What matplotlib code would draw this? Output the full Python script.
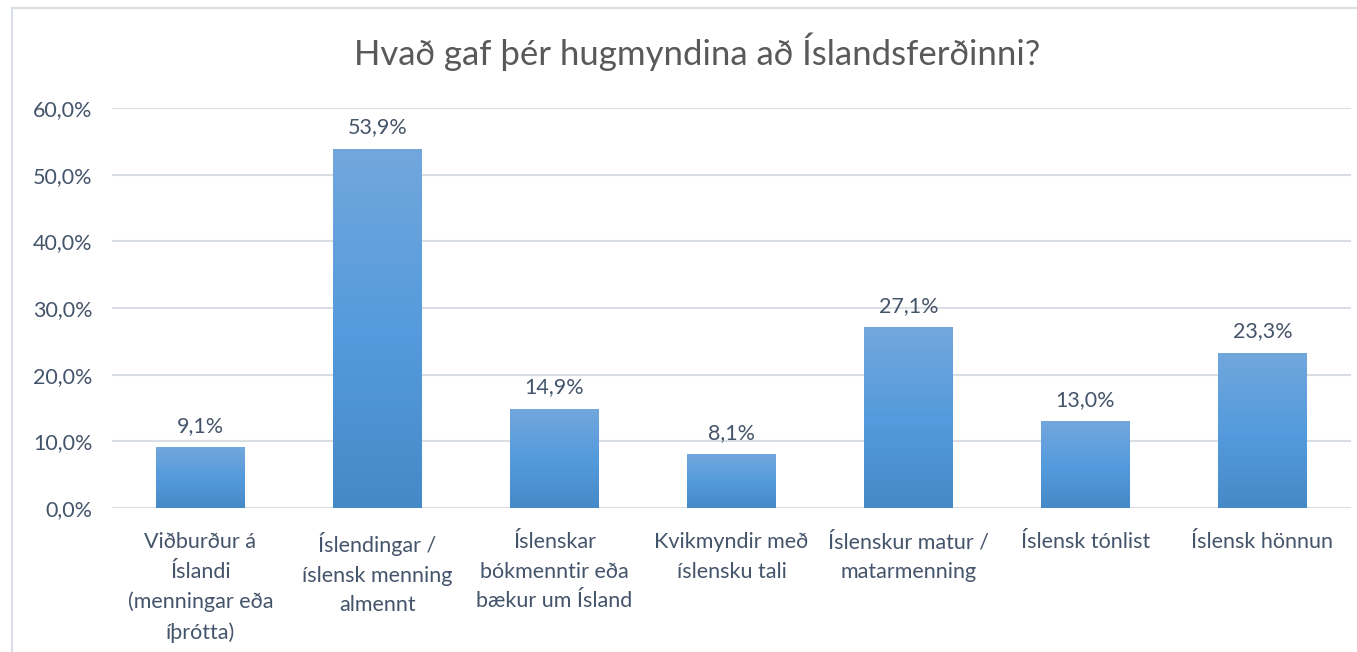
import matplotlib.pyplot as plt
import numpy as np
from matplotlib.colors import LinearSegmentedColormap
from matplotlib.patches import Rectangle

categories = [
    "Viðburður á\nÍslandi\n(menningar eða\níþrótta)",
    "Íslendingar /\níslensk menning\nalmennt",
    "Íslenskar\nbókmenntir eða\nbækur um Ísland",
    "Kvikmyndir með\níslensku tali",
    "Íslenskur matur /\nmatarmenning",
    "Íslensk tónlist",
    "Íslensk hönnun",
]
values = [9.1, 53.9, 14.9, 8.1, 27.1, 13.0, 23.3]
yticks = [0, 10, 20, 30, 40, 50, 60]

plt.rcParams['font.family'] = ['Lato', 'DejaVu Sans']
text_col = '#44546a'

fig = plt.figure(figsize=(13.57, 6.52), dpi=100)
# chart frame
fig.patches.append(Rectangle((12 / 1357, -0.1), 1.2, 1 - 8 / 652 + 0.1,
                             transform=fig.transFigure, fill=False,
                             edgecolor='#d9dde4', linewidth=1.5))

ax = fig.add_axes([112 / 1357, 1 - 508 / 652, (1351 - 112) / 1357, 400 / 652])
x = np.arange(len(categories))
bars = ax.bar(x, values, 0.5, color='none', zorder=3)

# vertical gradient per bar, lighter at top
cmap = LinearSegmentedColormap.from_list('g', ['#4689c8', '#559bdd', '#72a7dc'])
grad = np.linspace(0, 1, 256).reshape(-1, 1)
for b in bars:
    x0, w, h = b.get_x(), b.get_width(), b.get_height()
    im = ax.imshow(grad, cmap=cmap, origin='lower', aspect='auto',
                   extent=[x0, x0 + w, 0, h], zorder=3)
    im.set_clip_path(b)
    ax.annotate(f"{h:.1f}%".replace('.', ','), (x0 + w / 2, h),
                xytext=(0, 8), textcoords='offset points',
                ha='center', va='bottom', fontsize=15.5, color=text_col)

ax.set_xlim(-0.5, len(categories) - 0.5)
ax.set_ylim(0, 60)
ax.set_yticks(yticks)
ax.set_yticklabels([f"{v:.1f}%".replace('.', ',') for v in yticks],
                   fontsize=15.5, color=text_col)
ax.set_xticks(x)
ax.set_xticklabels(categories, fontsize=15.5, color=text_col, linespacing=1.62,
                   va='top')
ax.tick_params(length=0)
ax.tick_params(axis='x', pad=17)
ax.tick_params(axis='y', pad=14)
for s in ax.spines.values():
    s.set_visible(False)
ax.grid(axis='y', color='#d9dde4', linewidth=1.5, zorder=0)
ax.set_axisbelow(True)

fig.text(697 / 1357, 1 - 52 / 652, "Hvað gaf þér hugmyndina að Íslandsferðinni?",
         ha='center', va='center', fontsize=25, color='#595959')

fig.savefig('out.png', dpi=100)
